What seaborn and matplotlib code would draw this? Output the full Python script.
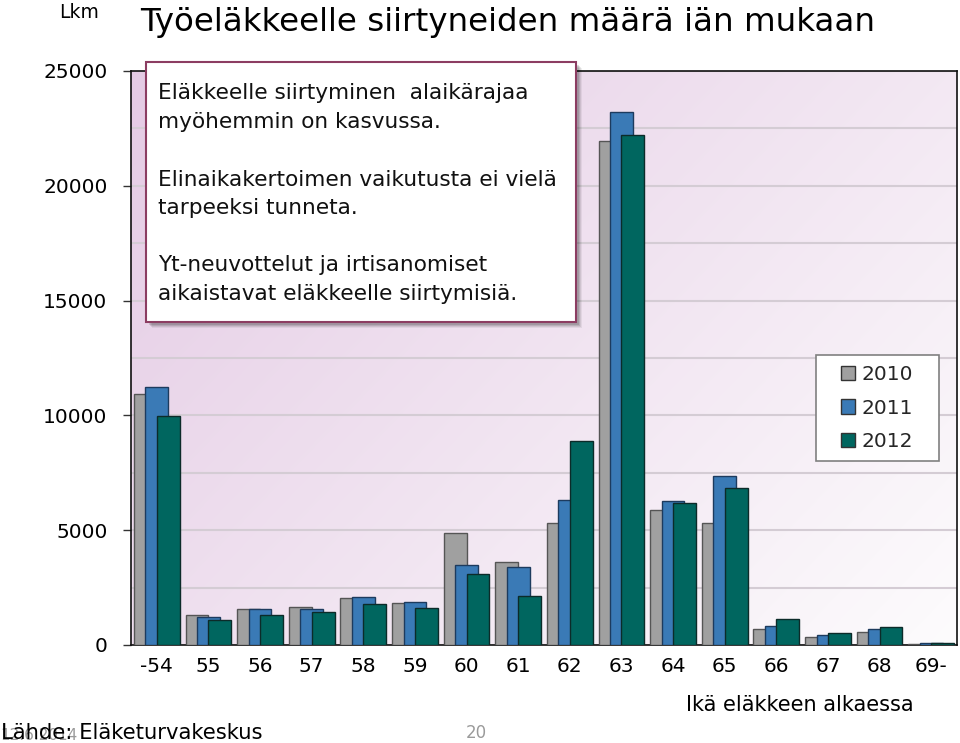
import numpy as np
import pandas as pd
import matplotlib
matplotlib.use("Agg")
import matplotlib.pyplot as plt
from matplotlib.patches import Rectangle
import seaborn as sns

# ---- data ----
ages = ["-54", "55", "56", "57", "58", "59", "60", "61", "62", "63",
        "64", "65", "66", "67", "68", "69-"]
years = ["2010", "2011", "2012"]
v2010 = [10930, 1290, 1550, 1640, 2050, 1830, 4890, 3630, 5330, 21960,
         5890, 5300, 700, 335, 550, 30]
v2011 = [11240, 1230, 1550, 1570, 2080, 1860, 3470, 3380, 6300, 23230,
         6260, 7350, 830, 450, 710, 100]
v2012 = [9970, 1100, 1320, 1420, 1770, 1610, 3090, 2120, 8880, 22200,
         6170, 6840, 1150, 510, 800, 90]
yticks = [0, 5000, 10000, 15000, 20000, 25000]

title = "Työeläkkeelle siirtyneiden määrä iän mukaan"
ylab = "Lkm"
xlab = "Ikä eläkkeen alkaessa"
box_lines = ["Eläkkeelle siirtyminen  alaikärajaa",
             "myöhemmin on kasvussa.",
             "Elinaikakertoimen vaikutusta ei vielä",
             "tarpeeksi tunneta.",
             "Yt-neuvottelut ja irtisanomiset",
             "aikaistavat eläkkeelle siirtymisiä."]
source = "Lähde: Eläketurvakeskus"
date_txt = "12.6.2014"
page_txt = "20"

colors = ["#a0a0a0", "#3a7ab6", "#00665f"]
edges = ["#555555", "#1d3b5e", "#0c2b29"]

df = pd.DataFrame({
    "age": ages * 3,
    "year": [years[0]] * len(ages) + [years[1]] * len(ages) + [years[2]] * len(ages),
    "value": v2010 + v2011 + v2012,
})

sns.set_style("white")
plt.rcParams["font.family"] = ["DejaVu Sans"]

W, H = 960, 743
fig = plt.figure(figsize=(W / 100, H / 100), dpi=100)
def fx(px): return px / W
def fy(py): return 1 - py / H

ax = fig.add_axes([fx(131), fy(645), fx(957) - fx(131), fy(71) - fy(645)])

sns.barplot(data=df, x="age", y="value", hue="year", palette=colors,
            width=0.663, saturation=1, linewidth=1.0, edgecolor="#333333",
            ax=ax, zorder=3)

# overlap bars: double the width around each centre
for cont, ec in zip(ax.containers, edges):
    for bar in cont:
        c = bar.get_x() + bar.get_width() / 2
        w = bar.get_width() * 2
        bar.set_x(c - w / 2)
        bar.set_width(w)
        bar.set_edgecolor(ec)

handles, labels = ax.get_legend_handles_labels()
if ax.get_legend() is not None:
    ax.get_legend().remove()

ax.set_xlim(-0.5, len(ages) - 0.5)
ax.set_ylim(0, 25000)

# gradient background
n = 200
u = np.linspace(0, 1, n)[None, :]
v = np.linspace(0, 1, n)[:, None]
t = 0.6 * (1 - u) + 0.4 * (1 - v)
pink = np.array([0.895, 0.795, 0.895])
white = np.array([0.992, 0.988, 0.992])
grad = white + t[..., None] * (pink - white)
ax.imshow(grad, extent=(-0.5, len(ages) - 0.5, 0, 25000), aspect="auto",
          zorder=0, interpolation="bicubic", origin="upper")
ax.set_xlim(-0.5, len(ages) - 0.5)
ax.set_ylim(0, 25000)

ax.set_yticks(yticks)
ax.set_yticklabels([str(v_) for v_ in yticks])
ax.set_yticks(np.arange(0, 25001, 2500), minor=True)
ax.yaxis.grid(True, which="both", color="#d4ccd4", linewidth=1.5, zorder=1)
ax.xaxis.grid(False)
ax.set_axisbelow(True)
ax.tick_params(axis="y", which="major", length=6, width=1, color="#333333",
               pad=11, labelsize=14.5, left=True, labelcolor="black")
ax.tick_params(axis="y", which="minor", length=0)
ax.tick_params(axis="x", length=0, pad=9, labelsize=14.5, labelcolor="black")
ax.set_xlabel("")
ax.set_ylabel("")
for s in ax.spines.values():
    s.set_visible(True)
    s.set_color("#111111")
    s.set_linewidth(1.2)

# legend box + legend
ax.add_patch(Rectangle((fx(816), fy(461)), fx(939) - fx(816), fy(355) - fy(461),
                       transform=fig.transFigure, facecolor="white",
                       edgecolor="#808080", linewidth=1.2, zorder=4))
ax.legend(handles, labels, loc="center", bbox_to_anchor=(fx(877), fy(408)),
          bbox_transform=fig.transFigure, frameon=False, fontsize=14.5,
          handlelength=0.7, handleheight=0.7, handletextpad=0.35,
          labelspacing=0.72)

# text box with shadow
bx0, by0, bx1, by1 = 146, 62, 576, 322
for k, a in [(6, 0.06), (5, 0.08), (4, 0.1), (3, 0.12)]:
    fig.patches.append(Rectangle((fx(bx0 + k), fy(by1 + k)), fx(bx1) - fx(bx0),
                                 fy(by0) - fy(by1), transform=fig.transFigure,
                                 facecolor="black", alpha=a, edgecolor="none",
                                 zorder=4))
fig.patches.append(Rectangle((fx(bx0), fy(by1)), fx(bx1) - fx(bx0), fy(by0) - fy(by1),
                             transform=fig.transFigure, facecolor="white",
                             edgecolor="#8c3d62", linewidth=1.5, zorder=5))
for txt, py in zip(box_lines, [93, 122, 180, 208, 265, 294]):
    fig.text(fx(158), fy(py), txt, ha="left", va="center", fontsize=15.6,
             color="#111111", zorder=6)

# titles and labels
fig.text(fx(140), fy(22), title, ha="left", va="center", fontsize=23.4, color="black")
fig.text(fx(79), fy(13), ylab, ha="center", va="center", fontsize=13.5, color="black")
fig.text(fx(800), fy(705), xlab, ha="center", va="center", fontsize=15, color="black")
fig.text(fx(0), fy(735), date_txt, ha="left", va="center", fontsize=11, color="#9a9a9a")
fig.text(fx(1), fy(733), source, ha="left", va="center", fontsize=15.2, color="black")
fig.text(fx(476), fy(733), page_txt, ha="center", va="center", fontsize=12, color="#9a9a9a")

fig.savefig("out.png", dpi=100)
